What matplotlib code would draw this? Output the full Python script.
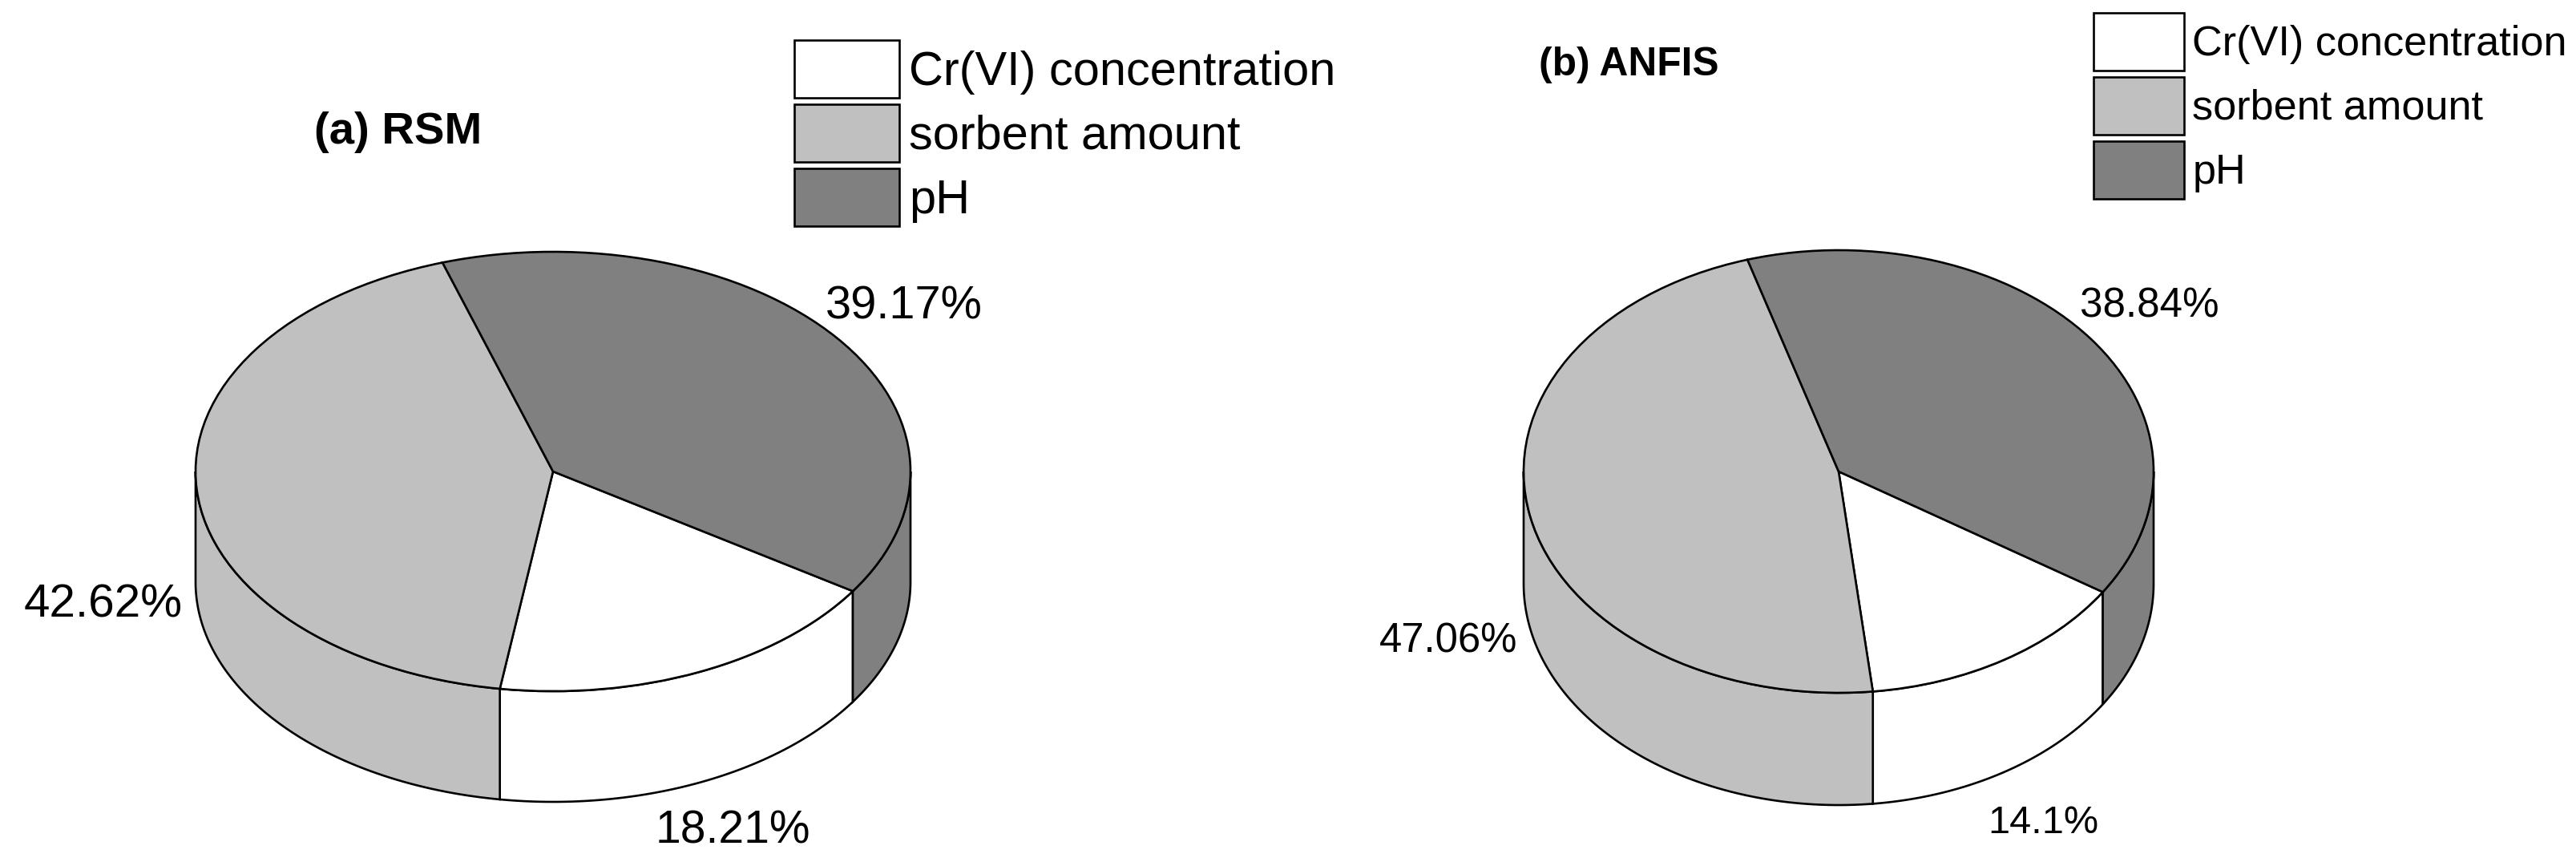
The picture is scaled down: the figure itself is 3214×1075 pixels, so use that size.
import matplotlib
matplotlib.use('Agg')
import matplotlib.pyplot as plt
import numpy as np

plt.rcParams['font.family'] = ['Liberation Sans', 'DejaVu Sans']

factors = ['Cr(VI) concentration', 'sorbent amount', 'pH']
rsm_values = [18.21, 42.62, 39.17]
anfis_values = [14.1, 47.06, 38.84]
rsm_labels = ['18.21%', '42.62%', '39.17%']
anfis_labels = ['14.1%', '47.06%', '38.84%']
colors = ['#ffffff', '#c0c0c0', '#808080']

W, H = 3214, 1075
LW = 1.9

fig = plt.figure(figsize=(W / 100, H / 100), dpi=100)


def draw_pie(values, cx, cy, rx, ry, depth, start):
    # axes sized so that radius 1 gives the flattened ellipse
    ax = fig.add_axes([(cx - rx) / W, (H - cy - ry) / H, 2 * rx / W, 2 * ry / H])
    wedges, _ = ax.pie(values, colors=colors, startangle=start, counterclock=False, radius=1,
                       wedgeprops={'edgecolor': 'black', 'linewidth': LW, 'zorder': 3})
    ax.set_aspect('auto')
    d = depth / ry
    # side wall, only the front half of the cylinder shows
    for w in wedges:
        for k in (-360, 0, 360, 720):
            a = max(w.theta1 + k, 180)
            b = min(w.theta2 + k, 360)
            if b <= a:
                continue
            t = np.radians(np.linspace(a, b, 100))
            xs = np.r_[np.cos(t), np.cos(t[::-1])]
            ys = np.r_[np.sin(t), np.sin(t[::-1]) - d]
            ax.fill(xs, ys, facecolor=w.get_facecolor(), edgecolor='black', linewidth=LW,
                    zorder=2, clip_on=False)
    ax.set_xlim(-1, 1)
    ax.set_ylim(-1, 1)
    for w in wedges:
        w.set_clip_on(False)
    return wedges


def label(x, y, s, size, **kw):
    fig.text(x / W, 1 - y / H, s, fontsize=size, va='baseline', **kw)


def add_legend(handles, x, y, size, sw, sh, gap):
    px = size * 100 / 72
    # legend takes some of handleheight off as descent, so work back from the wanted height
    hh = (sh - 0.245 * px) / 0.65 / px
    fig.legend(handles, factors, loc='upper left', bbox_to_anchor=(x / W, 1 - y / H), frameon=False,
               fontsize=size, borderpad=0, borderaxespad=0, handlelength=sw / px, handleheight=hh,
               labelspacing=gap / px, handletextpad=0.2)


w1 = draw_pie(rsm_values, 690, 588, 446, 274, 138, -33)
w2 = draw_pie(anfis_values, 2294, 588, 393, 276, 140, -33)

add_legend(w1, 991, 50, 42.8, 131, 72, 8)
add_legend(w2, 2612, 16, 37.6, 113, 72, 8)

label(392, 179, '(a) RSM', 40.5, fontweight='bold')
label(1920, 94, '(b) ANFIS', 35.7, fontweight='bold')

label(1030, 397, rsm_labels[2], 41.6)
label(30, 770, rsm_labels[1], 42)
label(818, 1052, rsm_labels[0], 41)
label(2595, 396, anfis_labels[2], 36.8)
label(1721, 814, anfis_labels[1], 36.6)
label(2480, 1039, anfis_labels[0], 35)

fig.savefig('out.png', dpi=100)
